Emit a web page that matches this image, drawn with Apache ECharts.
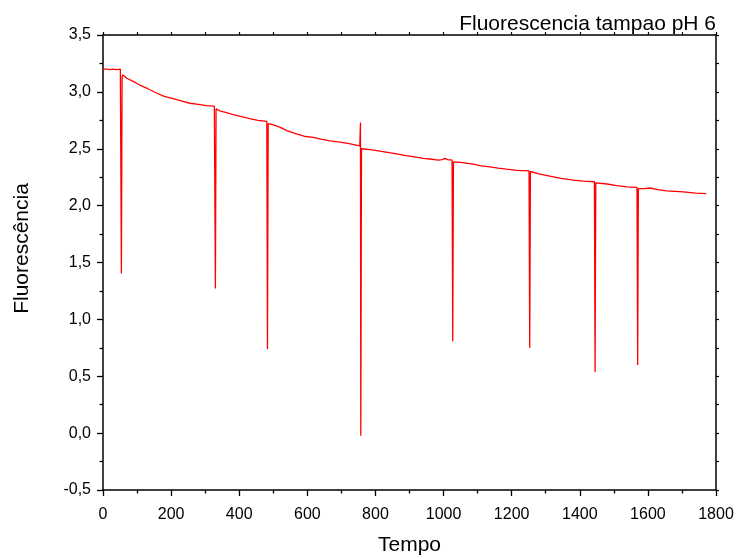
<!DOCTYPE html>
<html>
<head>
<meta charset="utf-8">
<script src="https://cdn.jsdelivr.net/npm/echarts@6/dist/echarts.min.js"></script>
<style>
  html, body { margin: 0; padding: 0; background: #fff; }
  #chart { width: 740px; height: 559px; }
</style>
</head>
<body>
<div id="chart"></div>
<script>
// Fluorescence readings over time (buffer pH 6); each sharp dip is a sample injection.
const tempo = [
  0, 10, 20, 30, 40, 51,
  54, 56, 58, 70, 90, 108, 130, 157, 180, 206, 230, 255, 280, 304, 327,
  330, 332, 345, 360, 382, 410, 431, 455, 481,
  483, 485, 500, 519, 540, 568, 590, 617, 640, 666, 690, 715, 740, 754,
  756, 757, 759, 790, 813, 840, 862, 890, 911, 940, 960, 985, 996, 1004, 1012, 1025,
  1027, 1029, 1050, 1087, 1110, 1136, 1160, 1185, 1215, 1251,
  1253, 1255, 1280, 1312, 1345, 1381, 1410, 1443,
  1445, 1447, 1480, 1508, 1540, 1568,
  1570, 1572, 1590, 1606, 1630, 1655, 1680, 1704, 1740, 1771
];
const fluorescencia = [
  3.20, 3.20, 3.195, 3.20, 3.195, 3.20,
  1.404, 3.13, 3.15, 3.12, 3.09, 3.06, 3.03, 2.99, 2.96, 2.94, 2.92, 2.90, 2.89, 2.88, 2.875,
  1.272, 2.85, 2.83, 2.82, 2.80, 2.78, 2.765, 2.75, 2.74,
  0.739, 2.72, 2.71, 2.69, 2.66, 2.63, 2.61, 2.60, 2.585, 2.57, 2.56, 2.55, 2.535, 2.525,
  2.73, -0.023, 2.50, 2.49, 2.48, 2.465, 2.455, 2.44, 2.43, 2.415, 2.41, 2.40, 2.405, 2.415, 2.405, 2.40,
  0.807, 2.385, 2.38, 2.365, 2.35, 2.34, 2.33, 2.32, 2.31, 2.305,
  0.750, 2.30, 2.28, 2.26, 2.24, 2.225, 2.215, 2.21,
  0.537, 2.20, 2.19, 2.175, 2.165, 2.16,
  0.598, 2.15, 2.15, 2.155, 2.14, 2.13, 2.125, 2.12, 2.11, 2.105
];

const xTicks = { min: 0, max: 1800, interval: 200 };
const yTicks = { min: -0.5, max: 3.5, interval: 0.5 };

const FONT = '"Liberation Sans", Arial, sans-serif';
const axisLine = { show: true, onZero: false, lineStyle: { color: '#000', width: 1.5 } };
const commaFmt = v => v.toFixed(1).replace('.', ',');
const plainFmt = v => String(v);

const chart = echarts.init(document.getElementById('chart'), null, { renderer: 'canvas' });
chart.setOption({
  animation: false,
  backgroundColor: '#fff',
  title: {
    text: 'Fluorescencia tampao pH 6',
    right: 19, top: 9,
    textStyle: { fontFamily: FONT, fontSize: 21, fontWeight: 'normal', color: '#000' }
  },
  grid: { left: 103, right: 24, top: 35, bottom: 69, containLabel: false, outerBoundsMode: 'none' },
  xAxis: [
    {
      type: 'value', position: 'bottom', ...xTicks,
      name: 'Tempo', nameLocation: 'middle', nameGap: 45,
      nameTextStyle: { fontFamily: FONT, fontSize: 21, color: '#000' },
      axisLine,
      axisTick: { show: true, inside: false, length: 6, lineStyle: { color: '#000', width: 1.3 } },
      minorTick: { show: true, splitNumber: 2, length: 3.5, lineStyle: { color: '#000', width: 1.3 } },
      axisLabel: { fontFamily: FONT, fontSize: 16, color: '#000', margin: 17, formatter: plainFmt },
      splitLine: { show: false }
    },
    {
      type: 'value', position: 'top', min: 0, max: 1800, interval: 100,
      axisLine,
      axisTick: { show: true, inside: false, length: 3, lineStyle: { color: '#000', width: 1.2 } },
      axisLabel: { show: false },
      splitLine: { show: false }
    }
  ],
  yAxis: [
    {
      type: 'value', position: 'left', ...yTicks,
      name: 'Fluorescência', nameLocation: 'middle', nameGap: 70, nameRotate: 90,
      nameTextStyle: { fontFamily: FONT, fontSize: 21, color: '#000', padding: [0, 0, 0, 28] },
      axisLine,
      axisTick: { show: true, inside: false, length: 6, lineStyle: { color: '#000', width: 1.3 } },
      minorTick: { show: true, splitNumber: 2, length: 3.5, lineStyle: { color: '#000', width: 1.3 } },
      axisLabel: { fontFamily: FONT, fontSize: 16, color: '#000', margin: 12, formatter: commaFmt },
      splitLine: { show: false }
    },
    {
      type: 'value', position: 'right', min: -0.5, max: 3.5, interval: 0.25,
      axisLine,
      axisTick: { show: true, inside: false, length: 3, lineStyle: { color: '#000', width: 1.2 } },
      axisLabel: { show: false },
      splitLine: { show: false }
    }
  ],
  series: [{
    type: 'line',
    xAxisIndex: 0, yAxisIndex: 0,
    data: tempo.map((t, i) => [t, fluorescencia[i]]),
    showSymbol: false,
    lineStyle: { color: '#ff0000', width: 1.3 },
    clip: true
  }]
});
</script>
</body>
</html>
